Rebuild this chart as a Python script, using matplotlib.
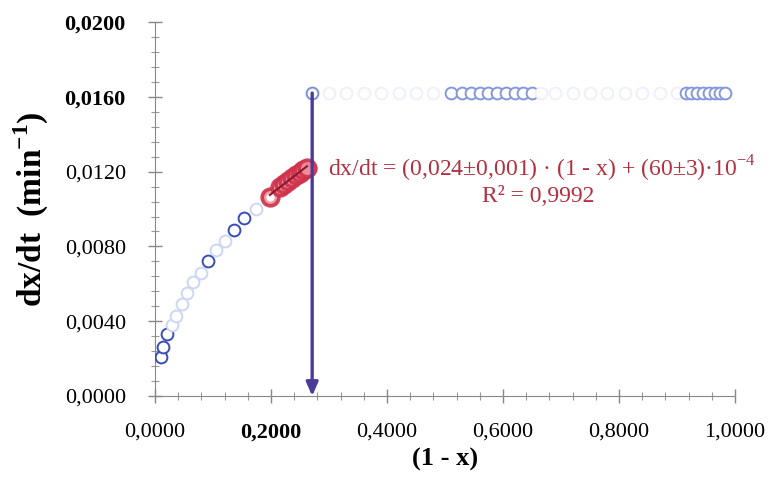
import matplotlib
matplotlib.use("Agg")
import matplotlib.pyplot as plt
from matplotlib.ticker import MultipleLocator
import numpy as np

plt.rcParams['font.family'] = ['Liberation Serif', 'DejaVu Serif']
plt.rcParams['mathtext.fontset'] = 'custom'
plt.rcParams['mathtext.rm'] = 'Liberation Serif'
plt.rcParams['mathtext.bf'] = 'Liberation Serif:bold'

# --- data ---
curve_x = [0.010, 0.014, 0.021, 0.030, 0.037, 0.046, 0.056, 0.066, 0.079, 0.092,
           0.106, 0.121, 0.137, 0.154, 0.174]
curve_y = [0.0021, 0.0026, 0.0033, 0.0038, 0.0043, 0.0049, 0.0055, 0.0061, 0.0066, 0.0072,
           0.0078, 0.0083, 0.0089, 0.0095, 0.0100]
curve_strong = [1, 1, 1, 0, 0, 0, 0, 0, 0, 1, 0, 0, 1, 1, 0]

fit_x = [0.198, 0.215, 0.222, 0.229, 0.236, 0.243, 0.250, 0.256, 0.262]
fit_y = [0.01065, 0.01120, 0.01135, 0.01150, 0.01165, 0.01180, 0.01195, 0.01210, 0.01222]

top_x = [0.267, 0.271]
top_y = [0.0122, 0.0162]

plateau_x = [0.30, 0.33, 0.36, 0.39, 0.42, 0.45, 0.48, 0.51, 0.53, 0.545, 0.56, 0.575,
             0.59, 0.605, 0.62, 0.635, 0.65, 0.665, 0.69, 0.72, 0.75, 0.78, 0.81, 0.84,
             0.87, 0.90, 0.915, 0.925, 0.935, 0.945, 0.955, 0.965, 0.975, 0.982]
plateau_y = [0.0162] * len(plateau_x)
plateau_strong = [0, 0, 0, 0, 0, 0, 0, 1, 1, 1, 1, 1, 1, 1, 1, 1, 1, 0, 0, 0, 0, 0, 0, 0,
                  0, 0, 1, 1, 1, 1, 1, 1, 1, 1]

slope = 0.024
intercept = 0.0060
arrow_x = 0.271
arrow_top = 0.0162

x_ticks = [0.0, 0.2, 0.4, 0.6, 0.8, 1.0]
x_labels = ['0,0000', '0,2000', '0,4000', '0,6000', '0,8000', '1,0000']
x_bold = [False, True, False, False, False, False]
y_ticks = [0.0, 0.004, 0.008, 0.012, 0.016, 0.020]
y_labels = ['0,0000', '0,0040', '0,0080', '0,0120', '0,0160', '0,0200']
y_bold = [False, False, False, False, True, True]

blue_dark = '#3a4cb5'
blue_light = '#cdd6f3'
red = '#d0304a'
text_red = '#b2303f'
arrow_col = '#4b3a98'

fig = plt.figure(figsize=(7.7, 4.8), dpi=100)
ax = fig.add_axes([0.2013, 0.175, 0.7532, 0.779])

# curve points
for xv, yv, s in zip(curve_x, curve_y, curve_strong):
    ax.plot(xv, yv, 'o', ms=8.5, mfc='white', mec=blue_dark if s else blue_light,
            mew=1.4, zorder=3)
for xv, yv, s in zip(plateau_x, plateau_y, plateau_strong):
    ax.plot(xv, yv, 'o', ms=8.5, mfc='white', mec='#8598dc' if s else '#eef1fb',
            mew=1.4, zorder=3)
ax.plot(top_x, top_y, 'o', ms=8.5, mfc='white', mec='#7b8fd8', mew=1.4, zorder=3)

# red fitted points
ax.plot(fit_x, fit_y, 'o', ms=12, mfc='#ec8e9c', mec=red, mew=2.6, alpha=0.9, zorder=4)
ax.plot(fit_x[0], fit_y[0], 'o', ms=6, mfc='white', mec='none', zorder=5)
fx = np.array([fit_x[0], fit_x[-1]])
ax.plot(fx, slope * fx + intercept, '-', color='#8a1a2a', lw=1.5, zorder=6)

# arrow
ax.annotate('', xy=(arrow_x, 0.0), xytext=(arrow_x, arrow_top),
            arrowprops=dict(arrowstyle='-|>,head_length=0.8,head_width=0.35',
                            color=arrow_col, lw=2.4, shrinkA=0, shrinkB=0),
            zorder=7)

ax.text(0.667, 0.01215, r'dx/dt = (0,024±0,001) · (1 - x) + (60±3)·10$^{-4}$',
        color=text_red, fontsize=17, ha='center', va='center')
ax.text(0.66, 0.01065, 'R² = 0,9992', color=text_red, fontsize=17,
        ha='center', va='center')

ax.set_xlim(0, 1.0)
ax.set_ylim(0, 0.020)
ax.set_xticks(x_ticks)
ax.set_xticklabels(x_labels)
ax.set_yticks(y_ticks)
ax.set_yticklabels(y_labels)
for lab, b in zip(ax.get_xticklabels(), x_bold):
    lab.set_fontweight('bold' if b else 'normal')
for lab, b in zip(ax.get_yticklabels(), y_bold):
    lab.set_fontweight('bold' if b else 'normal')
ax.xaxis.set_minor_locator(MultipleLocator(0.04))
ax.yaxis.set_minor_locator(MultipleLocator(0.0008))
ax.tick_params(axis='both', which='major', direction='inout', length=10, width=1,
               color='#888888', labelsize=16)
ax.tick_params(axis='y', which='major', pad=16)
ax.tick_params(axis='x', which='major', pad=14)
ax.tick_params(axis='both', which='minor', direction='inout', length=6, width=0.8,
               color='#999999')
for s in ['top', 'right']:
    ax.spines[s].set_visible(False)
for s in ['left', 'bottom']:
    ax.spines[s].set_color('#888888')

ax.set_xlabel('(1 - x)', fontsize=19, fontweight='bold', labelpad=4)
ax.set_ylabel(r'dx/dt  (min$^{\mathbf{-1}}$)', fontsize=24, fontweight='bold', labelpad=10)

fig.savefig('out.png', dpi=100)
